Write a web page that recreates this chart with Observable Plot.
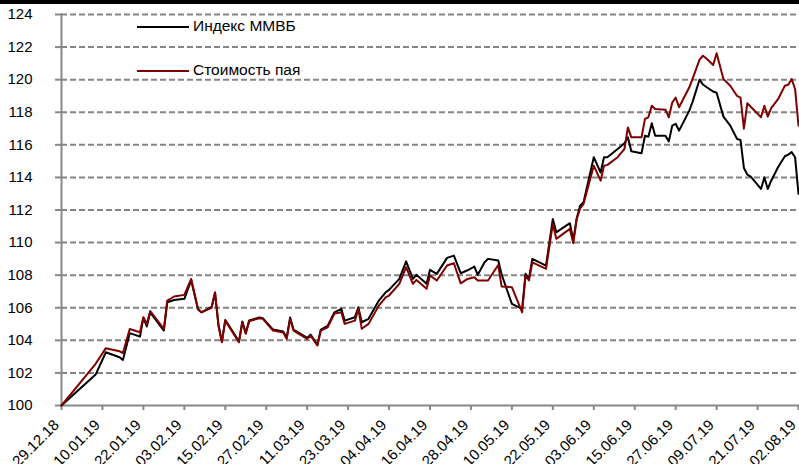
<!DOCTYPE html>
<html>
<head>
<meta charset="utf-8">
<script src="https://cdn.jsdelivr.net/npm/d3@7"></script>
<script src="https://cdn.jsdelivr.net/npm/@observablehq/plot@0.6"></script>
<style>
  html, body { margin: 0; padding: 0; background: #fff; }
  #wrap { position: relative; width: 799px; height: 464px; overflow: hidden; }
  #topbar { position: absolute; left: 0; top: 0; width: 799px; height: 4px; background: #000; }
  .leg { position: absolute; font-family: "Liberation Sans", Arial, sans-serif; font-size: 15.5px; color: #000; white-space: nowrap; }
  .leg span.l { display: inline-block; width: 52px; height: 2px; vertical-align: middle; margin-right: 4px; }
</style>
</head>
<body>
<div id="wrap">
  <div id="chart"></div>
  <div id="topbar"></div>
  <div class="leg" style="left:137px; top:17px;"><span class="l" style="background:#000"></span><span id="lg1"></span></div>
  <div class="leg" style="left:137px; top:61px;"><span class="l" style="background:#800000"></span><span id="lg2"></span></div>
</div>
<script>
const seriesNames = ["Индекс ММВБ", "Стоимость пая"];

const dates = [
"2018-12-29","2019-01-08","2019-01-11","2019-01-15","2019-01-16","2019-01-18","2019-01-21","2019-01-22","2019-01-23","2019-01-24",
"2019-01-28","2019-01-29","2019-01-31","2019-02-03","2019-02-05","2019-02-07","2019-02-08","2019-02-11","2019-02-12","2019-02-13",
"2019-02-14","2019-02-15","2019-02-17","2019-02-19","2019-02-20","2019-02-21","2019-02-22","2019-02-25","2019-02-26","2019-03-01",
"2019-03-04","2019-03-05","2019-03-06","2019-03-07","2019-03-11","2019-03-12","2019-03-14","2019-03-15","2019-03-17","2019-03-19",
"2019-03-21","2019-03-22","2019-03-25","2019-03-26","2019-03-27","2019-03-29","2019-04-01","2019-04-03","2019-04-04","2019-04-07",
"2019-04-09","2019-04-11","2019-04-12","2019-04-15","2019-04-16","2019-04-18","2019-04-21","2019-04-23","2019-04-25","2019-04-27",
"2019-04-29","2019-04-30","2019-05-02","2019-05-03","2019-05-06","2019-05-07","2019-05-10","2019-05-13","2019-05-14","2019-05-15",
"2019-05-16","2019-05-20","2019-05-22","2019-05-23","2019-05-27","2019-05-28","2019-05-29","2019-05-30","2019-05-31","2019-06-03",
"2019-06-05","2019-06-06","2019-06-07","2019-06-10","2019-06-12","2019-06-13","2019-06-14","2019-06-17","2019-06-18","2019-06-19",
"2019-06-20","2019-06-21","2019-06-24","2019-06-25","2019-06-26","2019-06-27","2019-06-28","2019-07-01","2019-07-02","2019-07-04",
"2019-07-05","2019-07-06","2019-07-08","2019-07-09","2019-07-11","2019-07-13","2019-07-15","2019-07-16","2019-07-17","2019-07-18",
"2019-07-19","2019-07-22","2019-07-23","2019-07-24","2019-07-25","2019-07-27","2019-07-29","2019-07-30","2019-07-31","2019-08-01",
"2019-08-02"];

const indexMMVB = [
100,101.9,103.27,102.96,102.8,104.44,104.23,105.38,104.85,105.72,
104.6,106.34,106.48,106.55,107.7,105.9,105.72,106.05,106.9,104.95,
103.92,105.25,104.6,103.92,105.15,104.45,105.22,105.4,105.36,104.66,
104.55,104.15,105.4,104.66,104.15,104.35,103.72,104.66,104.88,105.72,
105.93,105.21,105.42,106.03,105.11,105.32,106.44,106.95,107.1,107.77,
108.85,107.77,108.02,107.47,108.33,108.08,109.06,109.2,108.12,108.3,
108.53,108.02,108.79,109.0,108.9,108.04,106.24,105.93,108.08,107.8,
109.0,108.59,111.45,110.63,111.19,110.12,111.5,112.27,112.48,115.24,
114.3,115.24,115.24,115.75,116.1,116.46,115.6,115.48,116.56,116.5,
117.32,116.56,116.56,116.21,117.18,117.29,116.87,118.1,118.67,120.0,
119.7,119.55,119.27,119.2,117.73,117.18,116.36,116.3,114.58,114.17,
114.05,113.29,114.0,113.29,113.8,114.62,115.3,115.4,115.55,115.24,
112.99];

const fundValue = [
100,102.56,103.52,103.33,103.22,104.7,104.5,105.42,105.0,105.8,
104.7,106.44,106.69,106.79,107.77,105.93,105.72,106.0,106.95,104.91,
103.88,105.21,104.54,103.88,105.11,104.4,105.17,105.36,105.32,104.6,
104.48,104.09,105.32,104.6,104.09,104.29,103.68,104.6,104.8,105.64,
105.72,105.01,105.21,105.93,104.71,105.01,106.13,106.64,106.75,107.47,
108.49,107.47,107.71,107.16,107.98,107.67,108.59,108.73,107.5,107.77,
107.87,107.67,107.67,107.67,108.62,107.3,107.26,105.72,107.98,107.67,
108.79,108.39,111.15,110.23,110.84,109.96,111.45,112.09,112.38,114.72,
113.8,114.72,114.77,115.24,115.75,117.07,116.46,116.46,117.59,117.69,
118.4,118.2,118.16,117.69,118.6,118.9,118.31,119.53,120.08,121.23,
121.47,121.3,120.9,121.62,120.04,119.63,119.0,118.9,116.99,118.55,
118.34,117.69,118.4,117.73,118.26,118.8,119.63,119.69,120.04,119.43,
117.18];

const xTickLabels = ["2018-12-29","2019-01-10","2019-01-22","2019-02-03","2019-02-15","2019-02-27","2019-03-11","2019-03-23","2019-04-04","2019-04-16","2019-04-28","2019-05-10","2019-05-22","2019-06-03","2019-06-15","2019-06-27","2019-07-09","2019-07-21","2019-08-02"];
const yTicks = [100,102,104,106,108,110,112,114,116,118,120,122,124];

document.getElementById("lg1").textContent = seriesNames[0];
document.getElementById("lg2").textContent = seriesNames[1];

const parse = d3.utcParse("%Y-%m-%d");
const fmt = d3.utcFormat("%d.%m.%y");
const rows = dates.map((d, i) => ({date: parse(d), idx: indexMMVB[i], pay: fundValue[i]}));
const xt = xTickLabels.map(parse);

const chart = Plot.plot({
  width: 799,
  height: 464,
  marginLeft: 61,
  marginRight: 1,
  marginTop: 14,
  marginBottom: 59,
  style: {fontFamily: "'Liberation Sans', Arial, sans-serif", background: "white", overflow: "visible"},
  x: {type: "utc", domain: [xt[0], xt[xt.length - 1]]},
  y: {domain: [100, 124]},
  marks: [
    Plot.gridY(yTicks.filter(v => v > 100), {stroke: "#858585", strokeOpacity: 1, strokeWidth: 2, strokeDasharray: "6,3"}),
    Plot.axisY(yTicks, {tickSize: 6, tickPadding: 23, fontSize: 15, stroke: "#888", strokeWidth: 2, fill: "#000", label: null}),
    Plot.frame({anchor: "left", stroke: "#888", strokeWidth: 2}),
    Plot.frame({anchor: "bottom", stroke: "#888", strokeWidth: 2}),
    Plot.axisX(xt, {tickSize: 5, tickFormat: () => "", stroke: "#888", strokeWidth: 2, label: null}),
    Plot.text(xt, {x: d => d, text: d => fmt(d), frameAnchor: "bottom", dx: -5, dy: 17, rotate: -45, textAnchor: "end", lineAnchor: "middle", fontSize: 15, fill: "#000"}),
    Plot.lineY(rows, {x: "date", y: "idx", stroke: "#000", strokeWidth: 2}),
    Plot.lineY(rows, {x: "date", y: "pay", stroke: "#800000", strokeWidth: 2})
  ]
});
document.getElementById("chart").appendChild(chart);
</script>
</body>
</html>
